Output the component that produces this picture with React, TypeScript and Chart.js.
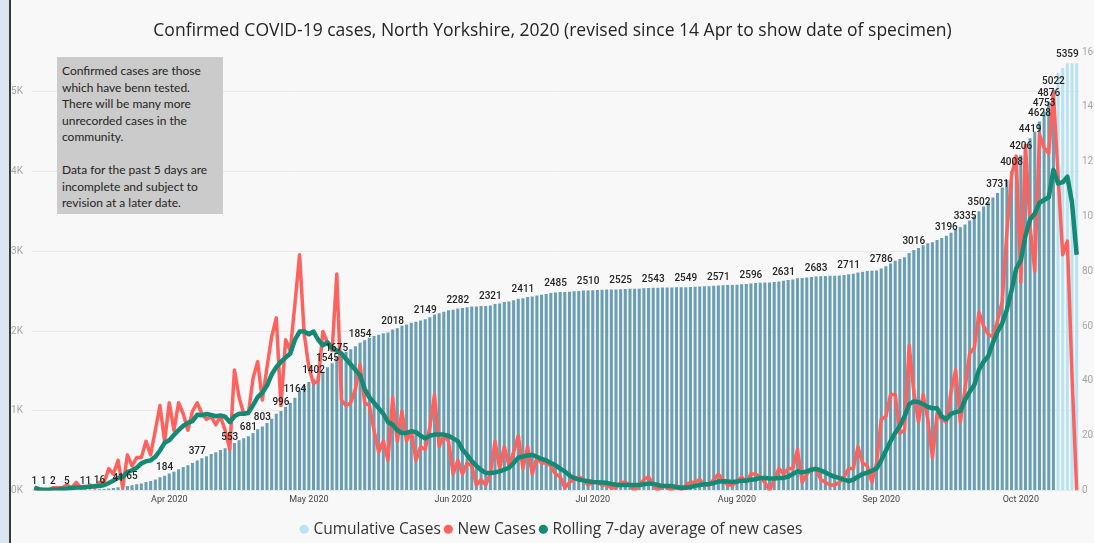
import React, { useEffect, useRef } from 'react';
import { Chart, registerables } from 'chart.js';

Chart.register(...registerables);

// ---- Data ----
const START_DATE = '2020-03-03';

const CUMULATIVE = [
  1, 1, 1, 1, 2, 3, 4, 5, 6, 8,
  10, 11, 13, 14, 16, 19, 25, 30, 41, 42,
  55, 65, 77, 89, 106, 118, 138, 166, 184, 214,
  236, 267, 294, 316, 345, 377, 405, 430, 457, 481,
  507, 529, 553, 597, 630, 655, 681, 722, 768, 803,
  846, 900, 962, 996, 1050, 1100, 1164, 1250, 1310, 1360,
  1402, 1442, 1492, 1545, 1596, 1675, 1708, 1739, 1771, 1808,
  1854, 1886, 1917, 1939, 1953, 1971, 1982, 2018, 2036, 2065,
  2083, 2105, 2116, 2132, 2149, 2172, 2207, 2223, 2243, 2261,
  2268, 2282, 2288, 2298, 2307, 2309, 2313, 2315, 2321, 2339,
  2347, 2363, 2372, 2386, 2405, 2411, 2427, 2433, 2445, 2455,
  2465, 2476, 2485, 2490, 2491, 2494, 2498, 2503, 2507, 2510,
  2513, 2516, 2518, 2520, 2521, 2522, 2525, 2528, 2530, 2530,
  2532, 2536, 2541, 2543, 2543, 2545, 2546, 2546, 2548, 2548,
  2549, 2552, 2555, 2559, 2561, 2563, 2567, 2571, 2575, 2577,
  2579, 2582, 2587, 2590, 2596, 2602, 2607, 2610, 2610, 2614,
  2622, 2631, 2639, 2647, 2662, 2665, 2671, 2678, 2683, 2687,
  2690, 2692, 2694, 2697, 2702, 2711, 2719, 2735, 2745, 2754,
  2757, 2760, 2786, 2813, 2848, 2883, 2904, 2926, 2979, 3016,
  3041, 3076, 3102, 3114, 3142, 3168, 3196, 3232, 3276, 3301,
  3335, 3385, 3437, 3502, 3562, 3619, 3675, 3731, 3800, 3894,
  4008, 4130, 4206, 4325, 4419, 4500, 4628, 4753, 4876, 5022,
  5240, 5300, 5359, 5359, 5359,
];

const NEW_CASES = [
  1, 0, 0, 0, 1, 1, 1, 2, 1, 3,
  1, 1, 2, 1, 3, 3, 8, 6, 11, 1,
  13, 9, 12, 12, 18, 13, 22, 31, 18, 32,
  22, 32, 28, 22, 29, 32, 28, 26, 27, 24,
  27, 22, 15, 44, 34, 28, 28, 41, 47, 33,
  45, 56, 63, 31, 55, 51, 68, 86, 57, 45,
  39, 40, 58, 54, 51, 79, 33, 31, 32, 37,
  46, 32, 31, 22, 14, 18, 11, 34, 18, 29,
  18, 22, 11, 16, 15, 23, 35, 16, 20, 18,
  6, 11, 6, 10, 9, 2, 4, 2, 6, 18,
  8, 16, 9, 14, 20, 8, 16, 6, 12, 10,
  10, 9, 6, 5, 1, 3, 4, 5, 4, 2,
  3, 3, 2, 2, 1, 1, 3, 3, 2, 0,
  2, 4, 5, 2, 0, 2, 1, 0, 2, 0,
  2, 3, 3, 4, 2, 2, 4, 6, 4, 2,
  2, 3, 5, 3, 6, 6, 5, 3, 0, 4,
  8, 6, 8, 8, 15, 3, 6, 8, 8, 4,
  3, 2, 2, 3, 5, 8, 8, 16, 10, 9,
  3, 10, 26, 27, 35, 35, 21, 22, 53, 36,
  25, 35, 26, 12, 28, 26, 25, 36, 44, 25,
  37, 50, 52, 65, 60, 57, 56, 62, 69, 94,
  115, 122, 76, 126, 96, 80, 130, 125, 123, 145,
  115, 86, 91, 42, 0,
];

const ROLLING_AVG = [
  1, 0.5, 0.3, 0.3, 0.4, 0.4, 0.6, 0.7, 0.9, 1.1,
  1.1, 1.3, 1.4, 1.6, 1.6, 2, 2.7, 3.6, 4.6, 5,
  6.7, 7.4, 8.3, 9.9, 10.7, 11, 12.3, 14.6, 17.4, 18.3,
  20.3, 22, 23.6, 24.7, 25.3, 27.6, 27.5, 27.9, 27.6, 27.1,
  27.4, 26.9, 25, 27.1, 28, 28, 28.4, 31.1, 34.1, 35.7,
  38.3, 42.3, 45, 47, 48.5, 50, 55, 58, 58, 57,
  58, 55, 53, 54, 52, 51, 50, 48, 46, 44,
  42, 37, 34, 32, 30, 28, 25, 24, 22, 21,
  21, 21.6, 21.3, 20, 19, 20, 20.4, 20.4, 20.4, 20,
  19, 18, 15, 13, 10.7, 9, 7.5, 6.4, 6.4, 6.6,
  7, 7.6, 8.3, 10, 12, 12.4, 12.8, 13, 12.3, 11.5,
  11, 10, 9.2, 8, 7, 5.5, 4.6, 4, 3.7, 3.4,
  3.1, 3, 2.9, 2.8, 2.4, 2.1, 2, 2, 2, 2,
  2, 2.3, 2.6, 2.4, 2, 1.6, 1.6, 1.6, 1.3, 1,
  1, 1.3, 1.7, 2, 2.3, 2.4, 2.7, 3.3, 3.4, 3.3,
  3.1, 3.3, 3.6, 3.6, 3.9, 4.1, 4.6, 4.6, 4.4, 4.4,
  4.6, 4.6, 5.1, 6, 7, 6.6, 7, 7.6, 7.9, 7.3,
  6.6, 5.7, 5, 4.6, 4, 3.4, 4, 5, 6, 6.5,
  7.2, 8, 11, 14.5, 18, 21, 23.5, 27, 31.5, 32.5,
  32.3, 31.5, 30.5, 30, 30, 27, 26, 28, 28.6, 29,
  33, 36, 38.5, 44, 47, 49, 54, 58, 61, 66,
  73, 81, 84, 93, 99, 101, 105, 106, 107, 117,
  112, 112.5, 114.5, 105, 86,
];

// Bars that carry a value label (day index from START_DATE)
const LABEL_INDICES = [
  0, 2, 4, 7, 11, 14, 18, 21, 28, 35, 42, 46, 49, 53, 56, 60, 63, 65, 70,
  77, 84, 91, 98, 105, 112, 119, 126, 133, 140, 147, 154, 161, 168, 175,
  182, 189, 196, 200, 203, 207, 210, 212, 214, 216, 217, 218, 219, 222,
];

const TICK_DATES = ['2020-04-01', '2020-05-01', '2020-06-01', '2020-07-01', '2020-08-01', '2020-09-01', '2020-10-01'];
const TICK_LABELS = ['Apr 2020', 'May 2020', 'Jun 2020', 'Jul 2020', 'Aug 2020', 'Sep 2020', 'Oct 2020'];
const LEFT_TICKS = [0, 1000, 2000, 3000, 4000, 5000];
const RIGHT_TICKS = [0, 20, 40, 60, 80, 100, 120, 140, 160];

const SERIES_NAMES = ['Cumulative Cases', 'New Cases', 'Rolling 7-day average of new cases'];
const INCOMPLETE_DAYS = 5;

const TITLE = 'Confirmed COVID-19 cases, North Yorkshire, 2020 (revised since 14 Apr to show date of specimen)';
const NOTE_LINES = [
  'Confirmed cases are those',
  'which have benn tested.',
  'There will be many more',
  'unrecorded cases in the',
  'community.',
  '',
  'Data for the past 5 days are',
  'incomplete and subject to',
  'revision at a later date.',
];

// ---- Styles ----
const BAR_DARK = '#6a9fb3';
const BAR_LIGHT = '#b9e2f2';
const RED = '#fd625e';
const GREEN = '#138a73';
const LEGEND_COLORS = [BAR_LIGHT, RED, GREEN];

function buildCategories(start: string, n: number): string[] {
  const out: string[] = [];
  const base = Date.parse(start + 'T00:00:00Z');
  for (let i = 0; i < n; i++) {
    out.push(new Date(base + i * 86400000).toISOString().slice(0, 10));
  }
  return out;
}

const CATEGORIES = buildCategories(START_DATE, CUMULATIVE.length);

const barLabelPlugin = {
  id: 'barLabels',
  afterDatasetsDraw(chart: any) {
    const meta = chart.getDatasetMeta(0);
    const ctx = chart.ctx;
    ctx.save();
    ctx.font = '500 10px Roboto';
    ctx.fillStyle = '#252423';
    ctx.textAlign = 'center';
    ctx.textBaseline = 'alphabetic';
    LABEL_INDICES.forEach((i) => {
      const el = meta.data[i];
      if (!el) return;
      ctx.fillText(String(CUMULATIVE[i]), el.x, el.y - 6);
    });
    ctx.restore();
  },
};

export default function App() {
  const canvasRef = useRef<HTMLCanvasElement>(null);

  useEffect(() => {
    if (!canvasRef.current) return;
    const n = CUMULATIVE.length;
    const chart = new Chart(canvasRef.current, {
      type: 'bar',
      data: {
        labels: CATEGORIES,
        datasets: [
          {
            type: 'bar',
            label: SERIES_NAMES[0],
            data: CUMULATIVE,
            yAxisID: 'y',
            backgroundColor: CUMULATIVE.map((_, i) => (i >= n - INCOMPLETE_DAYS ? BAR_LIGHT : BAR_DARK)),
            borderWidth: 0,
            barPercentage: 0.66,
            categoryPercentage: 1,
            order: 3,
          },
          {
            type: 'line',
            label: SERIES_NAMES[1],
            data: NEW_CASES,
            yAxisID: 'y1',
            borderColor: RED,
            backgroundColor: RED,
            borderWidth: 3.5,
            pointRadius: 0,
            tension: 0,
            borderJoinStyle: 'round',
            order: 2,
          },
          {
            type: 'line',
            label: SERIES_NAMES[2],
            data: ROLLING_AVG,
            yAxisID: 'y1',
            borderColor: GREEN,
            backgroundColor: GREEN,
            borderWidth: 4.5,
            pointRadius: 0,
            tension: 0,
            borderJoinStyle: 'round',
            order: 1,
          },
        ] as any,
      },
      options: {
        responsive: false,
        devicePixelRatio: 1,
        animation: false,
        layout: { padding: 0 },
        scales: {
          x: {
            type: 'category',
            offset: true,
            grid: { display: false, drawTicks: false },
            border: { display: false },
            afterBuildTicks: (scale: any) => {
              scale.ticks = scale.ticks.filter((t: any) => TICK_DATES.indexOf(CATEGORIES[t.value]) >= 0);
            },
            afterFit: (scale: any) => {
              scale.height = 25;
            },
            ticks: {
              autoSkip: false,
              maxRotation: 0,
              minRotation: 0,
              padding: 4,
              color: '#444444',
              font: { family: 'Roboto', size: 9 },
              callback: (value: any) => TICK_LABELS[TICK_DATES.indexOf(CATEGORIES[value as number])],
            },
          },
          y: {
            type: 'linear',
            position: 'left',
            min: 0,
            max: 5500,
            grid: { color: '#e8e8e8', lineWidth: 1, drawTicks: false },
            border: { display: false },
            afterBuildTicks: (scale: any) => {
              scale.ticks = LEFT_TICKS.map((v) => ({ value: v }));
            },
            afterFit: (scale: any) => {
              scale.width = 21;
            },
            ticks: {
              autoSkip: false,
              padding: 9,
              color: '#a6a6a6',
              font: { family: 'Roboto', size: 10 },
              callback: (v: any) => `${Number(v) / 1000}K`,
            },
          },
          y1: {
            type: 'linear',
            position: 'right',
            min: 0,
            max: 160,
            grid: { display: false, drawTicks: false },
            border: { display: false },
            afterBuildTicks: (scale: any) => {
              scale.ticks = RIGHT_TICKS.map((v) => ({ value: v }));
            },
            afterFit: (scale: any) => {
              scale.width = 15;
            },
            ticks: {
              autoSkip: false,
              padding: 3,
              color: '#a6a6a6',
              font: { family: 'Roboto', size: 10 },
            },
          },
        },
        plugins: {
          title: {
            display: true,
            text: TITLE,
            color: '#252423',
            font: { family: 'Open Sans', size: 17.5, weight: 'normal' },
            padding: { top: 21, bottom: 10 },
          },
          legend: {
            display: true,
            position: 'bottom',
            labels: {
              color: '#333333',
              font: { family: 'Open Sans', size: 15.5 },
              usePointStyle: true,
              pointStyle: 'circle',
              boxWidth: 3,
              boxHeight: 6.5,
              padding: 6,
              generateLabels: (c: any) => {
                const items = (Chart.defaults.plugins.legend.labels as any).generateLabels(c);
                items.sort((a: any, b: any) => a.datasetIndex - b.datasetIndex);
                return items.map((it: any) => ({
                  ...it,
                  fillStyle: LEGEND_COLORS[it.datasetIndex],
                  strokeStyle: LEGEND_COLORS[it.datasetIndex],
                  lineWidth: 0,
                  pointStyle: 'circle',
                }));
              },
            },
          },
          tooltip: { enabled: false },
        },
      } as any,
      plugins: [barLabelPlugin],
    });
    return () => chart.destroy();
  }, []);

  return (
    <div
      style={{
        position: 'fixed',
        left: 0,
        top: 0,
        width: 1094,
        height: 543,
        overflow: 'hidden',
        background: '#dce6f1',
      }}
    >
      <div
        style={{
          position: 'absolute',
          left: 9,
          top: 0,
          width: 1085,
          height: 560,
          borderLeft: '2px solid #3a3a3a',
          background: '#f8f8f8',
        }}
      >
        <canvas
          ref={canvasRef}
          width={1083}
          height={547}
          style={{ position: 'absolute', left: 0, top: 0, width: 1083, height: 547 }}
        />
      </div>
      <div
        style={{
          position: 'absolute',
          left: 57,
          top: 57,
          width: 166,
          height: 157,
          boxSizing: 'border-box',
          background: '#cbcbcb',
          padding: '6px 0 0 5px',
          fontFamily: 'Lato',
          fontSize: 12,
          lineHeight: '16.5px',
          color: '#252423',
          whiteSpace: 'nowrap',
        }}
      >
        {NOTE_LINES.map((line, i) => (
          <div key={i} style={{ height: 16.5 }}>
            {line}
          </div>
        ))}
      </div>
    </div>
  );
}
